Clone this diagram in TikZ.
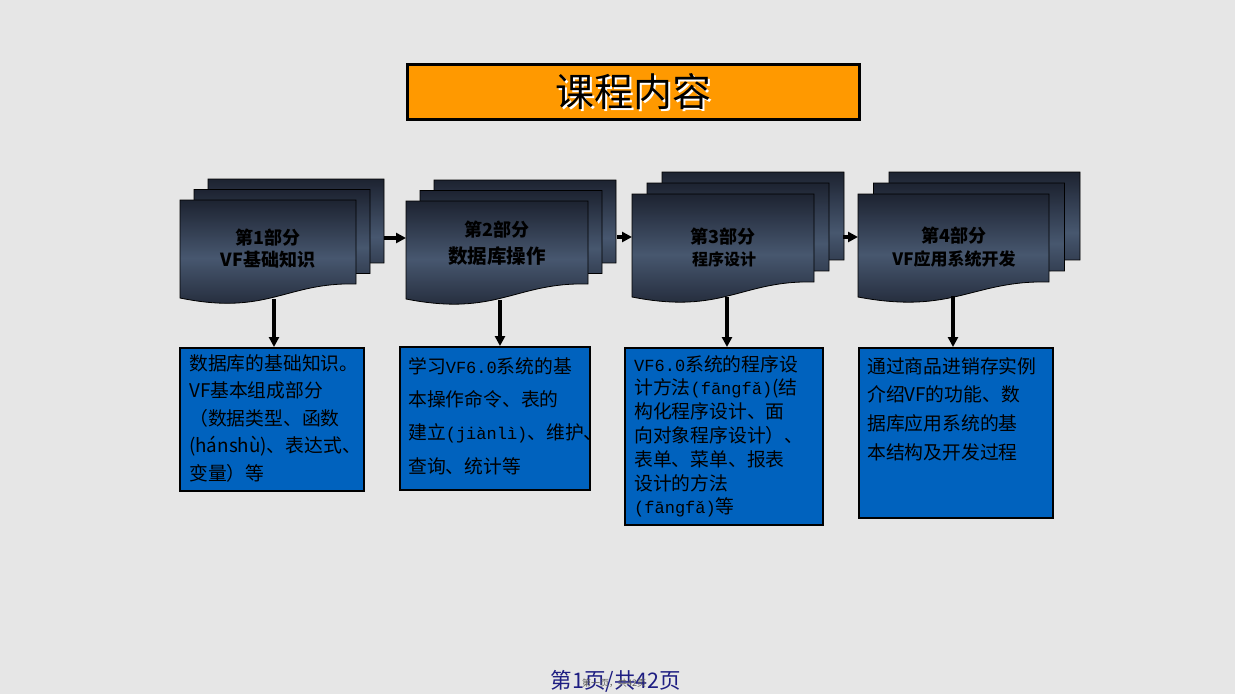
\documentclass[tikz,border=0pt]{standalone}
\usepackage{fontspec}
\usetikzlibrary{arrows.meta}
\setmainfont{Noto Sans CJK SC}
\newfontfamily\pymono{Liberation Mono}
\definecolor{bgc}{HTML}{E6E6E6}
\definecolor{orangec}{HTML}{FF9900}
\definecolor{bluec}{RGB}{0,98,190}
\definecolor{docdark}{HTML}{1D2331}
\definecolor{docmid}{HTML}{47576F}
\definecolor{navyc}{HTML}{1E1E82}
\newcommand\vfdoc[5]{%
  \shade[draw=black, line width=0.8pt, top color=docdark, bottom color=docdark, middle color=docmid]
    (#1,#3) -- (#2,#3) -- (#2,#4)
    .. controls ({#2-0.40*(#2-#1)},{#4-2}) and ({#1+0.50*(#2-#1)},{#5+18}) .. (#1,#5) -- cycle;}
\newcommand\vfstack[7]{% x1 x2 yt yr yl dx dy
  \vfdoc{#1+2*#6}{#2+2*#6}{#3-2*#7}{#4-2*#7}{#5-2*#7}
  \vfdoc{#1+#6}{#2+#6}{#3-#7}{#4-#7}{#5-#7}
  \vfdoc{#1}{#2}{#3}{#4}{#5}}
\newcommand\pym[1]{{\pymono\fontsize{17}{17}\selectfont #1}}
\tikzset{
  arr/.style={line width=3.4pt, -{Triangle[length=10pt,width=10pt]}},
  bluebox/.style={draw=black, line width=2.2pt, fill=bluec, inner sep=0pt, anchor=north west},
  boxtext/.style={inner sep=0pt, anchor=north west, align=left, text=black},
  doclabel/.style={inner sep=0pt, align=center, text=black, font=\bfseries},
}
\begin{document}
\begin{tikzpicture}[x=1pt,y=-1pt]
\fill[bgc] (0,0) rectangle (1235,694);
\useasboundingbox (0,0) rectangle (1235,694);

% title
\node[draw=black, line width=2.5pt, fill=orangec, minimum width=452pt, minimum height=55pt, anchor=north west, inner sep=0pt] (title) at (406,63) {};
\node[text=white, font=\fontsize{39}{39}\selectfont] at ([shift={(1.8,1.8)}]title.center) {课程内容};
\node[text=black, font=\fontsize{39}{39}\selectfont] (titletext) at (title.center) {课程内容};

% document stacks
\vfstack{180}{356}{200}{284}{298}{14}{10.5}
\vfstack{406}{588}{201}{284}{299}{14}{10.5}
\vfstack{632}{814}{194}{282}{297}{15}{11}
\vfstack{858}{1049}{194}{282}{297}{15.5}{11}

% labels
\node[doclabel, font=\bfseries\fontsize{18}{18}\selectfont] (l1a) at (268,238) {第1部分};
\node[doclabel, font=\bfseries\fontsize{18}{18}\selectfont] (l1b) at (268,260) {VF基础知识};
\node[doclabel, font=\bfseries\fontsize{18}{18}\selectfont] (l2a) at (497,230) {第2部分};
\node[doclabel, font=\bfseries\fontsize{19.5}{19.5}\selectfont] (l2b) at (497,256) {数据库操作};
\node[doclabel, font=\bfseries\fontsize{18}{18}\selectfont] (l3a) at (723,237) {第3部分};
\node[doclabel, font=\bfseries\fontsize{16}{16}\selectfont] (l3b) at (724,259) {程序设计};
\node[doclabel, font=\bfseries\fontsize{18}{18}\selectfont] (l4a) at (954,236) {第4部分};
\node[doclabel, font=\bfseries\fontsize{17}{17}\selectfont] (l4b) at (954,259) {VF应用系统开发};

% connection points on documents
\coordinate (d1r) at (384,238);
\coordinate (d2l) at (406,238);
\coordinate (d2r) at (617,237);
\coordinate (d3l) at (632,237);
\coordinate (d3r) at (843,237);
\coordinate (d4l) at (858,237);
\coordinate (d1b) at (274,299);
\coordinate (d2b) at (500,300);
\coordinate (d3b) at (727,297);
\coordinate (d4b) at (953,296);

% boxes
\node[bluebox, minimum width=184pt, minimum height=143pt] (b1) at (179,347) {};
\node[bluebox, minimum width=190pt, minimum height=143pt] (b2) at (399,346) {};
\node[bluebox, minimum width=198pt, minimum height=177pt] (b3) at (624,347) {};
\node[bluebox, minimum width=194pt, minimum height=170pt] (b4) at (858,347) {};

% arrows
\draw[arr] (d1r) -- (d2l);
\draw[arr] (d2r) -- (d3l);
\draw[arr] (d3r) -- (d4l);
\draw[arr] (d1b) -- (b1.north -| d1b);
\draw[arr] (d2b) -- (b2.north -| d2b);
\draw[arr] (d3b) -- (b3.north -| d3b);
\draw[arr] (d4b) -- (b4.north -| d4b);

% box texts
\node[boxtext, font=\fontsize{18.8}{27.4}\selectfont] (t1) at (189,354.5) {数据库的基础知识。\\VF基本组成部分\\（数据类型、函数\\(hánshù)、表达式、\\变量）等};
\node[boxtext, font=\fontsize{18.8}{33.4}\selectfont] (t2) at (408,357) {学习\pym{VF6.0}系统的基\\本操作命令、表的\\建立\pym{(jiànlì)}、维护、\\查询、统计等};
\node[boxtext, font=\fontsize{18.8}{23.8}\selectfont] (t3) at (634,355) {\pym{VF6.0}系统的程序设\\计方法\pym{(fāngfǎ)}(结\\构化程序设计、面\\向对象程序设计）、\\表单、菜单、报表\\设计的方法\\\pym{(fāngfǎ)}等};
\node[boxtext, font=\fontsize{18.8}{28.8}\selectfont] (t4) at (867,357) {通过商品进销存实例\\介绍VF的功能、数\\据库应用系统的基\\本结构及开发过程};

% footer
\node[text=navyc, font=\fontsize{21.5}{21.5}\selectfont, inner sep=0pt] (pg) at (616,681) {第1页/共42页};
\node[text=black!65, font=\fontsize{9}{9}\selectfont, inner sep=0pt] (pgsmall) at (614,683) {第一页，共42页};
\end{tikzpicture}
\end{document}
